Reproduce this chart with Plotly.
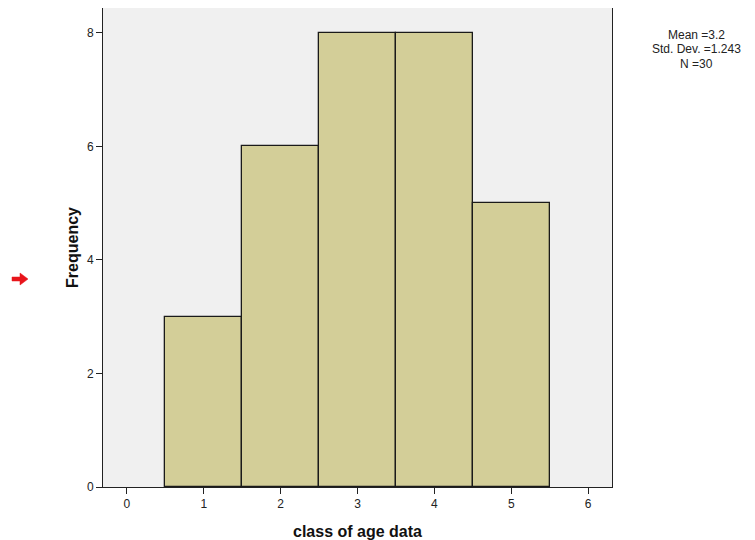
import plotly.graph_objects as go

classes = [1, 2, 3, 4, 5]
frequency = [3, 6, 8, 8, 5]
x_ticks = [0, 1, 2, 3, 4, 5, 6]
y_ticks = [0, 2, 4, 6, 8]
stats_lines = ["Mean =3.2", "Std. Dev. =1.243", "N =30"]

OFF = 8  # page body margin
W, H = 755 - OFF, 540 - OFF
L, R, T, B = 103 - OFF, 143, 8 - OFF, 53
pw, ph = W - L - R, H - T - B

fig = go.Figure()
fig.add_trace(go.Bar(
    x=classes, y=frequency, width=1,
    marker=dict(color="#d3ce98", line=dict(color="#1a1a1a", width=1.3)),
    showlegend=False,
))

axis_font = dict(family="Arial, Liberation Sans, sans-serif", size=12, color="#222")
title_font = dict(family="Arial, Liberation Sans, sans-serif", size=16, color="#111")
fig.update_layout(
    width=W, height=H,
    margin=dict(l=L, r=R, t=T, b=B, autoexpand=False),
    paper_bgcolor="white", plot_bgcolor="#f0f0f0",
    bargap=0,
    xaxis=dict(range=[-0.31, 6.31], tickvals=x_ticks, ticks="outside", ticklen=6,
               tickcolor="#222", showgrid=False, zeroline=False, showline=True,
               linecolor="#222", linewidth=1, mirror=True, tickfont=axis_font,
               title=dict(text="<b>class of age data</b>", font=title_font, standoff=15)),
    yaxis=dict(range=[0, 8.44], tickvals=y_ticks, ticks="outside", ticklen=6,
               tickcolor="#222", showgrid=False, zeroline=False, showline=True,
               linecolor="#222", linewidth=1, mirror=True, tickfont=axis_font,
               title=dict(text="<b>Frequency</b>", font=title_font, standoff=4)),
)

def px(x):
    return (x - OFF - L) / pw

def py(y):
    return (H + OFF - B - y) / ph

for i, line in enumerate(stats_lines):
    fig.add_annotation(
        text=line, xref="paper", yref="paper",
        x=px(696), y=py(35 + 14.5 * i), xanchor="center", yanchor="middle",
        showarrow=False, align="center",
        font=dict(family="Arial, Liberation Sans, sans-serif", size=12, color="#222"),
    )

arrow = (f"M {px(12)} {py(277)} L {px(20)} {py(277)} L {px(20)} {py(273)} "
         f"L {px(28)} {py(279)} L {px(20)} {py(285)} L {px(20)} {py(281)} L {px(12)} {py(281)} Z")
fig.add_shape(type="path", path=arrow, xref="paper", yref="paper",
              fillcolor="#e8141b", line=dict(color="#e8141b", width=0.5))

fig.write_html("out.html")
